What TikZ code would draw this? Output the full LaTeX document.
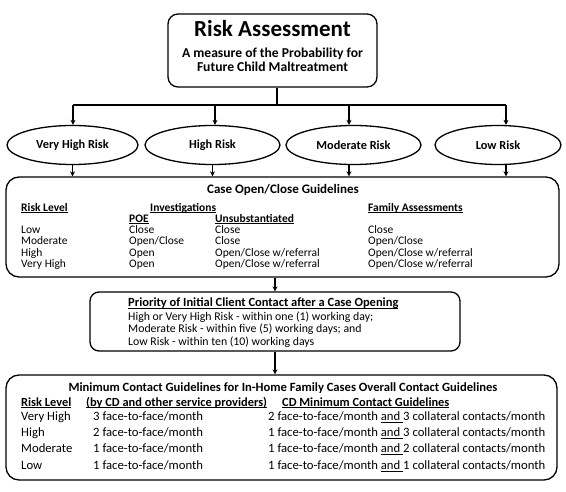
\documentclass[tikz,border=0pt]{standalone}
\usepackage{fontspec}
\setmainfont{Carlito}
\usetikzlibrary{shapes.geometric,arrows.meta}
\newcommand\fsTitle{\fontsize{23}{26}\selectfont}
\newcommand\fsSub{\fontsize{13.6}{15}\selectfont}
\newcommand\fsEll{\fontsize{12.3}{14}\selectfont}
\newcommand\fsCaseT{\fontsize{13}{15}\selectfont}
\newcommand\fsCase{\fontsize{11.5}{12}\selectfont}
\newcommand\fsPrioT{\fontsize{12.5}{14}\selectfont}
\newcommand\fsPrio{\fontsize{11.8}{13}\selectfont}
\newcommand\fsBotT{\fontsize{12.6}{14}\selectfont}
\newcommand\fsBotH{\fontsize{12.4}{14}\selectfont}
\newcommand\fsBot{\fontsize{12.7}{14}\selectfont}
\newcommand\myul[1]{\underline{\smash{#1}}}
\begin{document}
\begin{tikzpicture}[x=1pt,y=-1pt,
  box/.style={draw, line width=1.3pt, rounded corners=10pt, inner sep=0pt},
  risk/.style={draw, ellipse, line width=1.3pt, inner sep=0pt, minimum height=39pt, font=\fsEll\bfseries},
  conn/.style={line width=1.6pt},
  arr/.style={conn, -{Stealth[length=5pt,width=5pt]}},
  txt/.style={inner sep=0pt, anchor=west, text height=0.66em, text depth=0pt},
  ctxt/.style={txt, anchor=center}]
\useasboundingbox (0,0) rectangle (566,492);
% boxes
\node[box, minimum width=209pt, minimum height=73pt] (top) at (272.5,50.5) {};
\node[risk, minimum width=131pt] (e1) at (72.5,145) {Very High Risk};
\node[risk, minimum width=135pt] (e2) at (212.5,145) {High Risk};
\node[risk, minimum width=135pt] (e3) at (353.5,145) {Moderate Risk};
\node[risk, minimum width=126pt] (e4) at (498,145) {Low Risk};
\node[box, rounded corners=13pt, minimum width=553pt, minimum height=100pt] (case) at (282.5,227) {};
\node[box, rounded corners=9pt, minimum width=370pt, minimum height=59pt] (prio) at (275,321.5) {};
\node[box, rounded corners=13pt, minimum width=551pt, minimum height=105pt] (bot) at (281.5,427.5) {};
% connectors
\coordinate (bus) at (277,105);
\coordinate (b1) at (73,105);
\coordinate (b2) at (215,105);
\coordinate (b3) at (349,105);
\coordinate (b4) at (506,105);
\draw[conn] (top.south -| bus) -- (bus);
\draw[conn] (b1) -- (b4);
\draw[arr] (b1) -- (b1 |- e1.north);
\draw[arr] (b2) -- (b2 |- e2.north);
\draw[arr] (b3) -- (b3 |- e3.north);
\draw[arr] (b4) -- (b4 |- e4.north);
\draw[arr] (e1.south) -- (e1.south |- case.north);
\draw[arr] (e2.south) -- (e2.south |- case.north);
\draw[arr] (b3 |- e3.south) -- (b3 |- case.north);
\draw[arr] (b4 |- e4.south) -- (b4 |- case.north);
\draw[arr] (case.south -| prio.north) -- (prio.north);
\draw[arr] (prio.south) -- (prio.south |- bot.north);
% top box text
\node[ctxt, font=\fsTitle\bfseries] (t1) at (272.5,33) {Risk Assessment};
\node[ctxt, font=\fsSub\bfseries] (t2) at (272.5,54) {A measure of the Probability for};
\node[ctxt, font=\fsSub\bfseries] (t3) at (272.5,68) {Future Child Maltreatment};
% case box text
\node[ctxt, font=\fsCaseT\bfseries] (ct) at (283,190) {Case Open/Close Guidelines};
\node[txt, font=\fsCase\bfseries] (ch1) at (21,208) {\myul{Risk Level}};
\node[txt, font=\fsCase\bfseries] (ch2) at (150,208) {\myul{Investigations}};
\node[txt, font=\fsCase\bfseries] (ch3) at (368,208) {\myul{Family Assessments}};
\node[txt, font=\fsCase\bfseries] (ch4) at (129,219) {\myul{POE}};
\node[txt, font=\fsCase\bfseries] (ch5) at (215,219) {\myul{Unsubstantiated}};
\foreach \n/\y/\a/\b/\c/\d in {1/230.7/Low/Close/Close/Close,
  2/241.7/Moderate/Open\slash Close/Close/Open\slash Close,
  3/253.2/High/Open/Open\slash Close w\slash referral/Open\slash Close w\slash referral,
  4/264.3/Very High/Open/Open\slash Close w\slash referral/Open\slash Close w\slash referral}{
  \node[txt, font=\fsCase] (ca\n) at (21,\y) {\a};
  \node[txt, font=\fsCase] (cb\n) at (129,\y) {\b};
  \node[txt, font=\fsCase] (cc\n) at (215,\y) {\c};
  \node[txt, font=\fsCase] (cd\n) at (368,\y) {\d};
}
% priority box text
\node[txt, font=\fsPrioT\bfseries] (pt) at (128,303) {\myul{Priority of Initial Client Contact after a Case Opening}};
\node[txt, font=\fsPrio] (p1) at (128,317) {High or Very High Risk - within one (1) working day;};
\node[txt, font=\fsPrio] (p2) at (128,329.5) {Moderate Risk - within five (5) working days; and};
\node[txt, font=\fsPrio] (p3) at (128,342) {Low Risk - within ten (10) working days};
% bottom box text
\node[ctxt, font=\fsBotT\bfseries] (bt) at (283,388) {Minimum Contact Guidelines for In-Home Family Cases Overall Contact Guidelines};
\node[txt, font=\fsBotH\bfseries] (bh1) at (21,403) {\myul{Risk Level}};
\node[txt, font=\fsBotH\bfseries] (bh2) at (86,403) {\myul{(by CD and other service providers)}};
\node[txt, font=\fsBotH\bfseries] (bh3) at (282,403) {\myul{CD Minimum Contact Guidelines}};
\foreach \n/\y/\a/\b/\c/\d in {1/417/Very High/3/2/3, 2/433/High/2/1/3, 3/449/Moderate/1/1/2, 4/466/Low/1/1/1}{
  \node[txt, font=\fsBot] (ba\n) at (21,\y) {\a};
  \node[txt, font=\fsBot] (bb\n) at (93,\y) {\b\ face-to-face/month};
  \node[txt, font=\fsBot] (bc\n) at (268,\y) {\c\ face-to-face/month \myul{and }\d\ collateral contacts/month};
}
\end{tikzpicture}
\end{document}
